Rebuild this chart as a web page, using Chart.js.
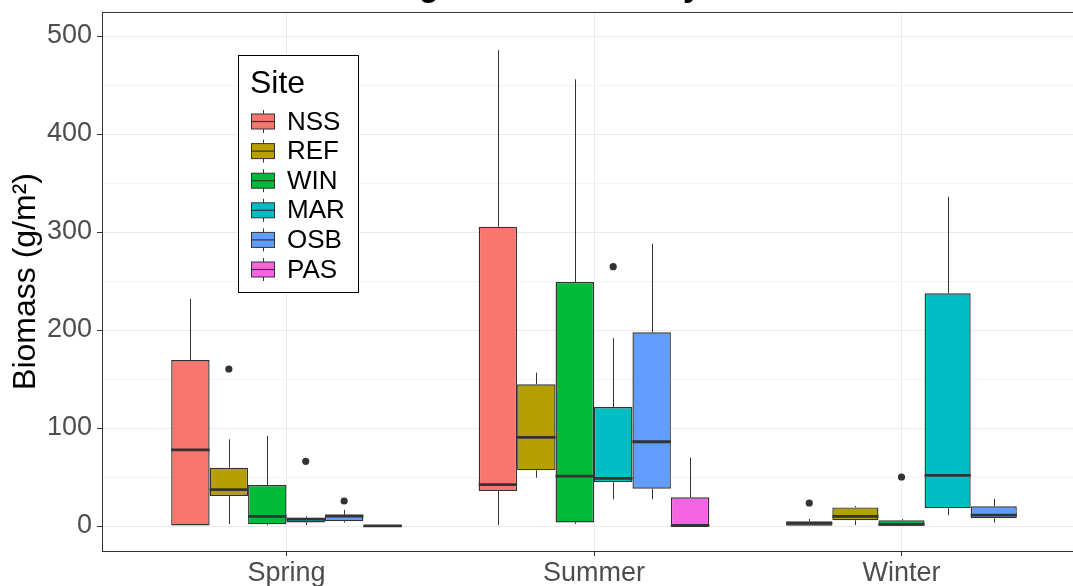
<!DOCTYPE html>
<html>
<head>
<meta charset="utf-8">
<script src="https://cdn.jsdelivr.net/npm/chart.js@4.4.1/dist/chart.umd.min.js"></script>
<style>
  html, body { margin: 0; padding: 0; background: #ffffff; overflow: hidden; }
  #wrap { width: 1073px; height: 586px; overflow: hidden; }
  canvas { display: block; }
</style>
</head>
<body>
<div id="wrap"><canvas id="chart" width="1100" height="586"></canvas></div>
<script>
const seasons = ['Spring', 'Summer', 'Winter'];
const sites = ['NSS', 'REF', 'WIN', 'MAR', 'OSB', 'PAS'];
const siteColors = ['#F8766D', '#B79F00', '#00BA38', '#00BFC4', '#619CFF', '#F564E3'];

// Box-plot statistics: one row per site, one value per season (null = not sampled)
const whiskerLow = [
  [0, 1, 0.3],        // NSS
  [2, 49.3, 1],       // REF
  [0.5, 2, 0.3],      // WIN
  [1, 27.2, 10.9],    // MAR
  [3.4, 27.2, 3.4],   // OSB
  [0, 0, null]        // PAS
];
const boxLow = [
  [0, 35.7, 0.3],
  [30.6, 56.8, 5.8],
  [1.7, 3.7, 0.3],
  [3.7, 44.6, 18],
  [4.8, 38.1, 7.8],
  [0, 0, null]
];
const median = [
  [77.6, 42.2, 2.7],
  [37.1, 90.5, 9.9],
  [9.9, 51, 1.7],
  [7.1, 48.6, 51.7],
  [10.2, 86, 11.2],
  [0.1, 0.5, null]
];
const boxHigh = [
  [169.4, 305.4, 4.8],
  [59.5, 144.6, 19],
  [41.8, 249, 5.8],
  [8.5, 121.4, 237.4],
  [11.6, 197.6, 20.1],
  [0.3, 29.3, null]
];
const whiskerHigh = [
  [231.6, 485.7, 7.1],
  [88.4, 156.5, 20.4],
  [91.8, 455.8, 7.1],
  [9.9, 191.8, 336],
  [16.3, 288.1, 27.6],
  [0.3, 69.7, null]
];
const outliers = [
  [[], [], [23.5]],
  [[160.2], [], []],
  [[], [], [50]],
  [[66], [264.6], []],
  [[25.5], [], []],
  [[], [], []]
];
const yMajorTicks = [0, 100, 200, 300, 400, 500];
const yMinorTicks = [50, 150, 250, 350, 450];

const FONT = "'Liberation Sans', Arial, sans-serif";
const INK = '#333333';
Chart.defaults.font.family = FONT;

// Whiskers behind the boxes; medians, outliers and panel border on top
const boxplotParts = {
  id: 'boxplotParts',
  beforeDatasetsDraw(chart) {
    const {ctx, scales: {y}} = chart;
    ctx.save();
    ctx.strokeStyle = INK;
    ctx.lineWidth = 1;
    chart.data.datasets.forEach((ds, i) => {
      chart.getDatasetMeta(i).data.forEach((el, k) => {
        if (boxLow[i][k] == null) return;
        const x = Math.round(el.x) + 0.5;
        ctx.beginPath();
        ctx.moveTo(x, y.getPixelForValue(whiskerLow[i][k]));
        ctx.lineTo(x, y.getPixelForValue(boxLow[i][k]));
        ctx.moveTo(x, y.getPixelForValue(boxHigh[i][k]));
        ctx.lineTo(x, y.getPixelForValue(whiskerHigh[i][k]));
        ctx.stroke();
      });
    });
    ctx.restore();
  },
  afterDatasetsDraw(chart) {
    const {ctx, chartArea, scales: {y}} = chart;
    ctx.save();
    chart.data.datasets.forEach((ds, i) => {
      chart.getDatasetMeta(i).data.forEach((el, k) => {
        if (boxLow[i][k] == null) return;
        const half = el.width / 2;
        const my = y.getPixelForValue(median[i][k]);
        ctx.strokeStyle = INK;
        ctx.lineWidth = 2.8;
        ctx.beginPath();
        ctx.moveTo(el.x - half, my);
        ctx.lineTo(el.x + half, my);
        ctx.stroke();
        ctx.fillStyle = INK;
        outliers[i][k].forEach(v => {
          ctx.beginPath();
          ctx.arc(el.x, y.getPixelForValue(v), 3.6, 0, Math.PI * 2);
          ctx.fill();
        });
      });
    });
    ctx.strokeStyle = INK;
    ctx.lineWidth = 1;
    ctx.strokeRect(chartArea.left + 0.5, chartArea.top + 0.5,
      chartArea.right - chartArea.left, chartArea.bottom - chartArea.top);
    ctx.restore();
  }
};

// Plot title above the panel
const plotTitle = {
  id: 'plotTitle',
  afterDraw(chart, args, opts) {
    const {ctx, chartArea} = chart;
    ctx.save();
    ctx.font = `bold ${opts.size}px ${FONT}`;
    ctx.fillStyle = '#000000';
    ctx.textAlign = 'center';
    ctx.textBaseline = 'alphabetic';
    ctx.fillText(opts.text, (chartArea.left + chartArea.right) / 2, opts.baseline);
    ctx.restore();
  }
};

// Boxed legend with box-plot key glyphs
const siteLegend = {
  id: 'siteLegend',
  afterDraw(chart, args, o) {
    const {ctx} = chart;
    ctx.save();
    ctx.fillStyle = '#ffffff';
    ctx.fillRect(o.left, o.top, o.width, o.height);
    ctx.strokeStyle = '#000000';
    ctx.lineWidth = 1;
    ctx.strokeRect(o.left, o.top, o.width, o.height);

    ctx.fillStyle = '#000000';
    ctx.textAlign = 'left';
    ctx.textBaseline = 'alphabetic';
    ctx.font = `${o.titleSize}px ${FONT}`;
    ctx.fillText(o.title, o.titleX, o.titleY);

    ctx.font = `${o.labelSize}px ${FONT}`;
    ctx.textBaseline = 'middle';
    chart.data.datasets.forEach((ds, i) => {
      const cy = o.firstRow + i * o.rowGap;
      const cx = o.keyX + o.keyW / 2;
      ctx.strokeStyle = INK;
      ctx.lineWidth = 1;
      ctx.beginPath();
      ctx.moveTo(Math.round(cx) + 0.5, cy - o.keyH / 2 - 4);
      ctx.lineTo(Math.round(cx) + 0.5, cy + o.keyH / 2 + 4);
      ctx.stroke();
      ctx.fillStyle = ds.backgroundColor;
      ctx.fillRect(o.keyX, cy - o.keyH / 2, o.keyW, o.keyH);
      ctx.strokeRect(o.keyX, cy - o.keyH / 2, o.keyW, o.keyH);
      ctx.lineWidth = 1.2;
      ctx.beginPath();
      ctx.moveTo(o.keyX, cy);
      ctx.lineTo(o.keyX + o.keyW, cy);
      ctx.stroke();
      ctx.fillStyle = '#000000';
      ctx.fillText(ds.label, o.labelX, cy + 1);
    });
    ctx.restore();
  }
};

const datasets = sites.map((site, i) => ({
  label: site,
  data: seasons.map((s, k) => ({
    x: k + 1,
    y: boxLow[i][k] == null ? null : [boxLow[i][k], boxHigh[i][k]]
  })),
  backgroundColor: siteColors[i],
  borderColor: INK,
  borderWidth: 1.4,
  borderSkipped: false,
  categoryPercentage: 0.75,
  barPercentage: 1,
  skipNull: true
}));

new Chart(document.getElementById('chart'), {
  type: 'bar',
  data: { datasets },
  plugins: [boxplotParts, plotTitle, siteLegend],
  options: {
    responsive: false,
    animation: false,
    layout: { padding: { top: 12, right: 14, left: 0, bottom: 0 } },
    plugins: {
      legend: { display: false },
      tooltip: { enabled: false },
      plotTitle: { text: 'Seagrass Biomass by Season', size: 33, baseline: -4 },
      siteLegend: {
        left: 238.5, top: 55.5, width: 120, height: 237,
        title: 'Site', titleSize: 32, titleX: 250, titleY: 93,
        labelSize: 26, labelX: 287,
        keyX: 251.5, keyW: 23, keyH: 15, firstRow: 121.5, rowGap: 29.6
      }
    },
    scales: {
      x: {
        type: 'linear',
        min: 0.4,
        max: 3.6,
        offset: false,
        afterBuildTicks: s => { s.ticks = seasons.map((_, k) => ({ value: k + 1 })); },
        afterFit: s => { s.height = 35; s.paddingLeft = 0; s.paddingRight = 0; },
        ticks: {
          callback: v => seasons[v - 1],
          color: '#4D4D4D',
          font: { size: 27 },
          padding: 1,
          maxRotation: 0,
          autoSkip: false
        },
        grid: { color: '#EBEBEB', lineWidth: 1, tickLength: 5, tickColor: INK, offset: false },
        border: { display: false }
      },
      y: {
        type: 'linear',
        min: -25.5,
        max: 524.5,
        afterBuildTicks: s => {
          s.ticks = [...yMajorTicks, ...yMinorTicks].sort((a, b) => a - b).map(v => ({ value: v }));
        },
        afterFit: s => { s.width = 102; s.paddingTop = 0; s.paddingBottom = 0; },
        ticks: {
          callback: v => (yMajorTicks.includes(v) ? String(v) : ''),
          color: '#4D4D4D',
          font: { size: 27 },
          padding: 5,
          autoSkip: false
        },
        grid: {
          color: c => (yMajorTicks.includes(c.tick.value) ? '#EBEBEB' : '#F4F4F4'),
          lineWidth: 1,
          tickLength: 5,
          tickColor: c => (yMajorTicks.includes(c.tick.value) ? INK : 'rgba(0,0,0,0)')
        },
        border: { display: false },
        title: {
          display: true,
          text: 'Biomass (g/m²)',
          color: '#000000',
          font: { size: 32 },
          padding: { top: 7, bottom: 0 }
        }
      }
    }
  }
});
</script>
</body>
</html>
